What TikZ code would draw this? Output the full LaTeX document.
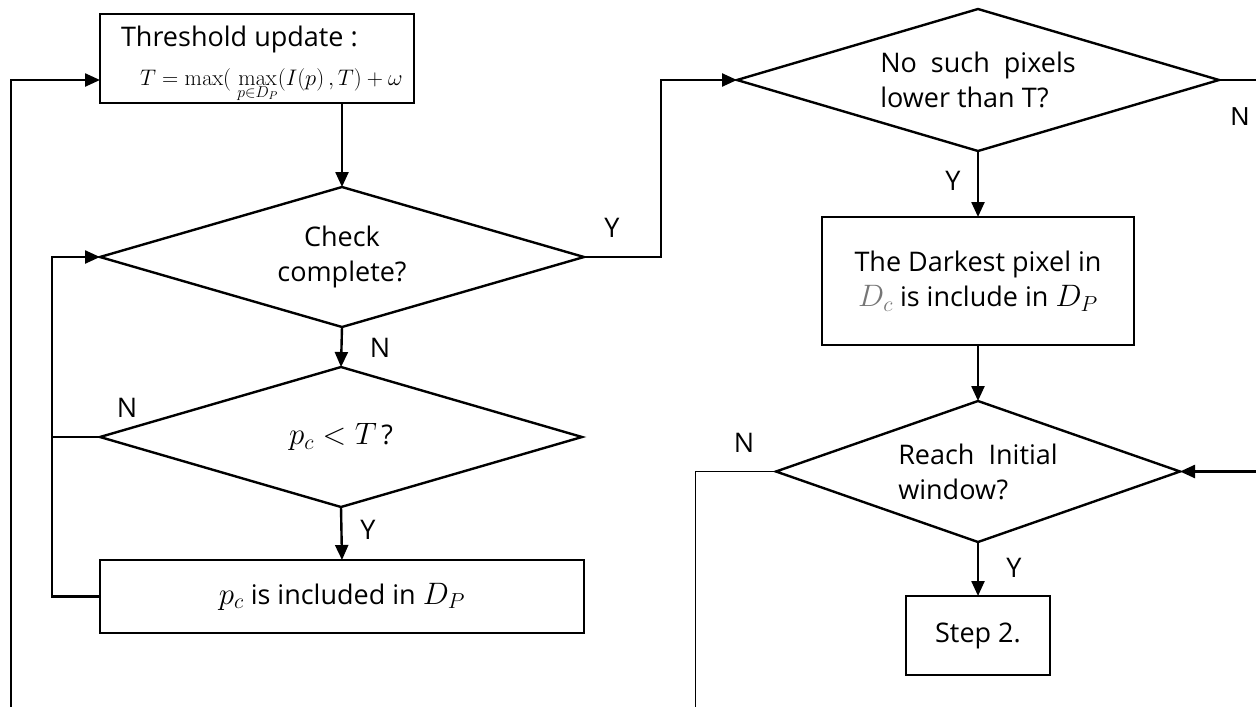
\RequirePackage{fix-cm}
\documentclass[tikz,border=0pt]{standalone}
\usepackage[no-math]{fontspec}
\setmainfont{Open Sans}
\newfontfamily\arialfont{Liberation Sans}
\usetikzlibrary{shapes.geometric,arrows.meta}
\definecolor{mutedgray}{RGB}{118,118,118}
% math set a little larger than the sans text around it
\newcommand{\bigmath}[1]{{\fontsize{31}{35}\selectfont$#1$}}
\begin{document}
\begin{tikzpicture}[x=1pt,y=-1pt,
  every node/.style={font=\fontsize{27}{35}\selectfont},
  procbox/.style={draw, rectangle, line width=2.4pt, inner sep=0pt, outer sep=0pt},
  decision/.style={draw, diamond, line width=2.4pt, inner sep=0pt, outer sep=0pt, aspect=3.4},
  conn/.style={line width=2.4pt},
  arr/.style={conn, -{Triangle[length=15pt,width=13pt]}},
  thinconn/.style={line width=1pt},
  tag/.style={inner sep=0pt, outer sep=0pt}]
\useasboundingbox (0,0) rectangle (1256,707);

% left column
\node[procbox, minimum width=314pt, minimum height=89pt] (thr) at (257,58.5) {};
\node[tag, anchor=west] (thrtitle) at (121,39) {Threshold update :};
\node[tag, anchor=base west, font=\fontsize{22.5}{26}\selectfont] (thrformula) at (140,85)
  {$T=\max\bigl(\;\max\limits_{p\in D_P}(I(p)\,,T\bigr)+\omega$};
\node[decision, align=center, minimum width=484pt, minimum height=140pt] (chk) at (342,257) {Check\\complete?};
\node[decision, minimum width=482pt, minimum height=140pt] (pc) at (341,437) {\bigmath{p_c<T}\,?};
\node[procbox, minimum width=484pt, minimum height=73pt] (inc) at (342,596.5) {\bigmath{p_c} is included in \bigmath{D_P}};

% right column
\node[decision, align=left, minimum width=482pt, minimum height=142pt] (nosuch) at (978,80) {No\ \ such\ \ pixels\\lower than T?};
\node[procbox, align=center, minimum width=312pt, minimum height=128pt] (dark) at (978,281)
  {The Darkest pixel in\\\textcolor{mutedgray}{\bigmath{D_c}} is include in \bigmath{D_P}};
\node[decision, align=left, aspect=2.9, minimum width=404pt, minimum height=141pt] (reach) at (978,471.5) {Reach\ \ Initial\\window?};
\node[procbox, minimum width=144pt, minimum height=79pt] (step) at (978,635.5) {Step 2.};

% free ends at the edges
\coordinate (lowleft) at (11,707);
\coordinate (rtop) at (1256,80);
\coordinate (rmid) at (1256,471.5);
\coordinate (lowright) at (695,707);

% connectors
\draw[arr] (lowleft) |- ([yshift=-21.5pt]thr.west);
\draw[arr] (chk.north |- thr.south) -- (chk.north);
\draw[arr] (chk.south) -- (pc.north);
\draw[arr] (pc.south) -- (inc.north);
\draw[arr] (inc.west) -- ++(-48,0) |- (chk.west);
\draw[conn] (pc.west) -- ++(-48,0);
\draw[arr] (chk.east) -- (661,257) |- (nosuch.west);
\draw[conn] (nosuch.east) -- (rtop);
\draw[arr] (nosuch.south) -- (dark.north);
\draw[arr] (dark.south) -- (reach.north);
\draw[arr] (rmid) -- (reach.east);
\draw[arr] (reach.south) -- (step.north);
\draw[thinconn] (reach.west) -| (lowright);

% branch labels
\node[tag] (lchkn) at (380,348) {N};
\node[tag] (lpcn) at (127,408) {N};
\node[tag] (lpcy) at (368,530) {Y};
\node[tag] (lchky) at (612,228) {Y};
\node[tag] (lnosuchy) at (953,181) {Y};
\node[tag, font=\arialfont\fontsize{26}{30}\selectfont] (lnosuchn) at (1240,117) {N};
\node[tag] (lreachn) at (744,443) {N};
\node[tag] (lreachy) at (1014,568) {Y};
\end{tikzpicture}
\end{document}
